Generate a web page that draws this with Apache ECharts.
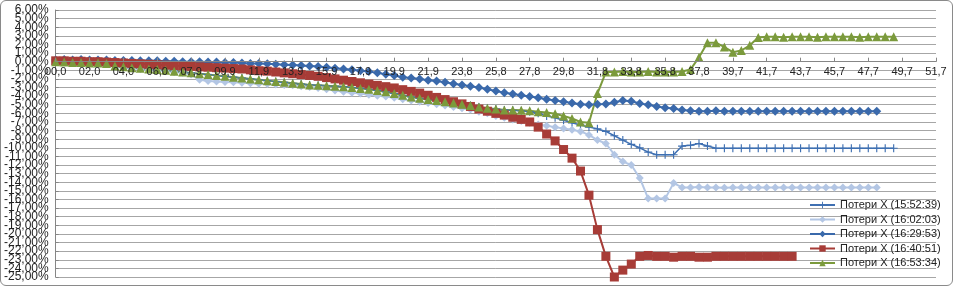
<!DOCTYPE html>
<html>
<head>
<meta charset="utf-8">
<script src="https://cdn.jsdelivr.net/npm/echarts@6/dist/echarts.min.js"></script>
<style>
html,body{margin:0;padding:0;background:#fff;}
#c{width:953px;height:286px;border:1px solid #8a8a8a;border-radius:6px;box-sizing:border-box;background:#fff;}
</style>
</head>
<body>
<div id="c"></div>
<script>
// X tick labels (every 4th category)
const xTickLabels = ["00,0","02,0","04,0","06,0","07,9","09,9","11,9","13,9","15,9","17,9","19,9","21,9","23,8","25,8","27,8","29,8","31,8","33,8","35,8","37,8","39,7","41,7","43,7","45,7","47,7","49,7","51,7"];
const categoryCount = 105;
const yMin = -25, yMax = 6, yStep = 1;

const seriesNames = ["Потери X (15:52:39)","Потери X (16:02:03)","Потери X (16:29:53)","Потери X (16:40:51)","Потери X (16:53:34)"];

// values in percent
const loss155239 = [0.0,-0.05,-0.1,-0.1,-0.15,-0.15,-0.2,-0.5,-0.6,-0.7,
 -0.75,-0.85,-0.9,-1.0,-1.1,-1.2,-1.3,-1.4,-1.5,-1.6,
 -1.7,-1.8,-1.9,-2.0,-2.1,-2.2,-2.3,-2.4,-2.5,-2.6,
 -2.7,-2.75,-2.8,-2.85,-2.9,-3.0,-3.1,-3.2,-3.35,-3.5,
 -3.7,-3.9,-4.1,-4.25,-4.4,-4.5,-4.65,-4.8,-4.95,-5.1,
 -5.25,-5.4,-5.5,-5.6,-5.65,-5.7,-5.8,-6.0,-6.3,-6.5,
 -6.8,-7.1,-7.35,-7.6,-7.8,-8.1,-8.6,-9.1,-9.6,-10.0,
 -10.5,-10.8,-10.8,-10.8,-9.8,-9.7,-9.5,-9.8,-10.05,-10.05,
 -10.05,-10.05,-10.05,-10.05,-10.05,-10.05,-10.05,-10.05,-10.05,-10.05,
 -10.05,-10.05,-10.05,-10.05,-10.05,-10.05,-10.05,-10.05,-10.05,-10.05];

const loss160203 = [0.0,-0.05,-0.1,-0.15,-0.2,-0.2,-0.25,-0.6,-0.7,-0.8,
 -0.85,-0.95,-1.0,-1.1,-1.2,-1.3,-1.5,-2.1,-2.25,-2.3,
 -2.35,-2.4,-2.45,-2.5,-2.55,-2.6,-2.65,-2.7,-2.75,-2.85,
 -2.95,-3.05,-3.2,-3.35,-3.5,-3.6,-3.7,-3.85,-3.95,-4.05,
 -4.2,-4.35,-4.5,-4.65,-4.8,-4.95,-5.1,-5.25,-5.4,-5.55,
 -5.8,-6.0,-6.3,-6.5,-6.7,-6.9,-7.1,-7.3,-7.45,-7.6,
 -7.75,-7.9,-8.1,-8.5,-9.1,-9.5,-10.8,-11.6,-12.0,-13.5,
 -15.9,-15.9,-15.9,-14.1,-14.6,-14.6,-14.55,-14.6,-14.6,-14.65,
 -14.6,-14.6,-14.6,-14.6,-14.6,-14.6,-14.6,-14.6,-14.6,-14.6,
 -14.6,-14.6,-14.6,-14.6,-14.6,-14.6,-14.6,-14.6];

const loss162953 = [0.2,0.25,0.2,0.25,0.2,0.2,0.2,0.15,0.15,0.15,
 0.1,0.1,0.1,0.05,0.05,0.0,0.0,0.0,-0.05,-0.05,
 -0.1,-0.1,-0.15,-0.2,-0.2,-0.25,-0.3,-0.35,-0.4,-0.45,
 -0.5,-0.55,-0.65,-0.75,-0.85,-0.95,-1.05,-1.15,-1.3,-1.45,
 -1.6,-1.8,-1.9,-2.0,-2.15,-2.25,-2.4,-2.55,-2.7,-2.85,
 -3.0,-3.2,-3.4,-3.6,-3.75,-3.9,-4.05,-4.2,-4.35,-4.5,
 -4.65,-4.8,-4.95,-5.0,-4.95,-4.9,-4.7,-4.5,-4.6,-4.85,
 -5.0,-5.2,-5.35,-5.45,-5.6,-5.7,-5.75,-5.75,-5.7,-5.75,
 -5.75,-5.75,-5.75,-5.75,-5.75,-5.75,-5.75,-5.75,-5.75,-5.75,
 -5.75,-5.75,-5.75,-5.75,-5.75,-5.75,-5.75,-5.75];

const loss164051 = [0.1,0.1,0.05,0.05,0.0,0.0,-0.05,-0.1,-0.15,-0.2,
 -0.25,-0.3,-0.35,-0.4,-0.45,-0.5,-0.55,-0.6,-0.65,-0.7,
 -0.75,-0.8,-0.85,-0.95,-1.05,-1.1,-1.2,-1.3,-1.4,-1.5,
 -1.6,-1.7,-1.85,-2.0,-2.15,-2.3,-2.45,-2.6,-2.75,-2.9,
 -3.05,-3.25,-3.45,-3.65,-3.9,-4.15,-4.4,-4.65,-4.9,-5.2,
 -5.5,-5.75,-6.0,-6.2,-6.45,-6.7,-7.0,-7.6,-8.4,-9.2,
 -10.2,-11.2,-12.7,-15.5,-19.5,-22.6,-25.0,-24.2,-23.5,-22.6,
 -22.5,-22.6,-22.6,-22.7,-22.6,-22.6,-22.7,-22.7,-22.6,-22.6,
 -22.6,-22.6,-22.6,-22.6,-22.6,-22.6,-22.6,-22.6];

const loss165334 = [0.0,-0.05,-0.1,-0.1,-0.15,-0.15,-0.2,-0.5,-0.6,-0.7,
 -0.75,-0.85,-0.9,-1.0,-1.1,-1.2,-1.3,-1.4,-1.5,-1.6,
 -1.7,-1.8,-1.9,-2.0,-2.1,-2.2,-2.3,-2.4,-2.5,-2.6,
 -2.7,-2.75,-2.8,-2.85,-2.9,-3.0,-3.1,-3.2,-3.35,-3.5,
 -3.7,-3.9,-4.1,-4.25,-4.4,-4.5,-4.65,-4.8,-4.95,-5.1,
 -5.25,-5.4,-5.5,-5.6,-5.6,-5.65,-5.7,-5.8,-5.9,-6.05,
 -6.3,-6.6,-7.0,-7.1,-3.7,-1.2,-1.2,-1.15,-1.2,-1.2,
 -1.15,-1.2,-1.2,-1.2,-1.15,-0.9,0.5,2.2,2.2,1.7,
 1.1,1.3,1.9,2.8,2.9,2.9,2.85,2.9,2.9,2.9,
 2.85,2.9,2.9,2.9,2.9,2.85,2.9,2.9,2.9,2.9];

const categories = [];
for (let i = 0; i < categoryCount; i++) categories.push(i % 4 === 0 ? xTickLabels[i / 4] : '');

const FONT = "'Liberation Sans', Arial, sans-serif";
const plusPath = 'path://M3,0H4V3H7V4H4V7H3V4H0V3H3Z';
const gridTop = 9, gridBottom = 8;
const fmtPct = v => v.toFixed(2).replace('.', ',') + '%';

const chart = echarts.init(document.getElementById('c'), null, {renderer: 'canvas'});
const plotH = chart.getHeight() - gridTop - gridBottom;
// place the category axis on the zero line (Excel style: axis crosses at 0)
const zeroOffset = -plotH * (0 - yMin) / (yMax - yMin);

function mk(name, data, color, symbol, size, width) {
  return {
    name: name, type: 'line', data: data, yAxisIndex: 0,
    symbol: symbol, symbolSize: size, showSymbol: true, showAllSymbol: true,
    lineStyle: {color: color, width: width},
    itemStyle: {color: color, borderWidth: 0},
    emphasis: {disabled: true},
    animation: false
  };
}
// Two label layers on the same scale (even / odd values) so that the
// densely packed Excel-style labels are all drawn.
function yLabelAxis(parity, main) {
  return {
    type: 'value', min: yMin, max: yMax, interval: yStep, position: 'left',
    axisLine: {show: main, lineStyle: {color: '#868686'}},
    axisTick: {show: main, inside: true, length: 3, lineStyle: {color: '#868686'}},
    axisLabel: {fontFamily: FONT, fontSize: 12, color: '#222', margin: 7,
      showMinLabel: true, showMaxLabel: true, hideOverlap: false,
      formatter: v => (Math.abs(Math.round(v)) % 2 === parity ? fmtPct(v) : '')},
    splitLine: {show: main, lineStyle: {color: '#a6a6a6', width: 1}}
  };
}
chart.setOption({
  animation: false,
  grid: {left: 52, right: 16, top: gridTop, bottom: gridBottom, containLabel: false},
  legend: {
    orient: 'vertical', left: 803, top: 193,
    itemWidth: 25, itemHeight: 8, itemGap: 2.5,
    textStyle: {fontFamily: FONT, fontSize: 11, color: '#222', lineHeight: 12},
    data: seriesNames
  },
  xAxis: {
    type: 'category', data: categories, boundaryGap: false, zlevel: 1, z: 3,
    position: 'bottom', offset: zeroOffset,
    axisLine: {onZero: false, lineStyle: {color: '#868686', width: 1}},
    axisTick: {show: true, inside: true, length: 4, interval: 3, lineStyle: {color: '#868686'}},
    axisLabel: {interval: 3, fontFamily: FONT, fontSize: 11, color: '#222', margin: 5},
    splitLine: {show: false}
  },
  yAxis: [yLabelAxis(0, true), yLabelAxis(1, false)],
  series: [
    mk(seriesNames[0], loss155239, '#3f70b2', plusPath, 8, 1.5),
    mk(seriesNames[1], loss160203, '#b3c6e4', 'diamond', 8, 2),
    mk(seriesNames[2], loss162953, '#3a69ab', 'diamond', 9, 2),
    mk(seriesNames[3], loss164051, '#a73c37', 'rect', 9, 2),
    mk(seriesNames[4], loss165334, '#7b9a3c', 'triangle', 9, 2)
  ]
});
</script>
</body>
</html>
